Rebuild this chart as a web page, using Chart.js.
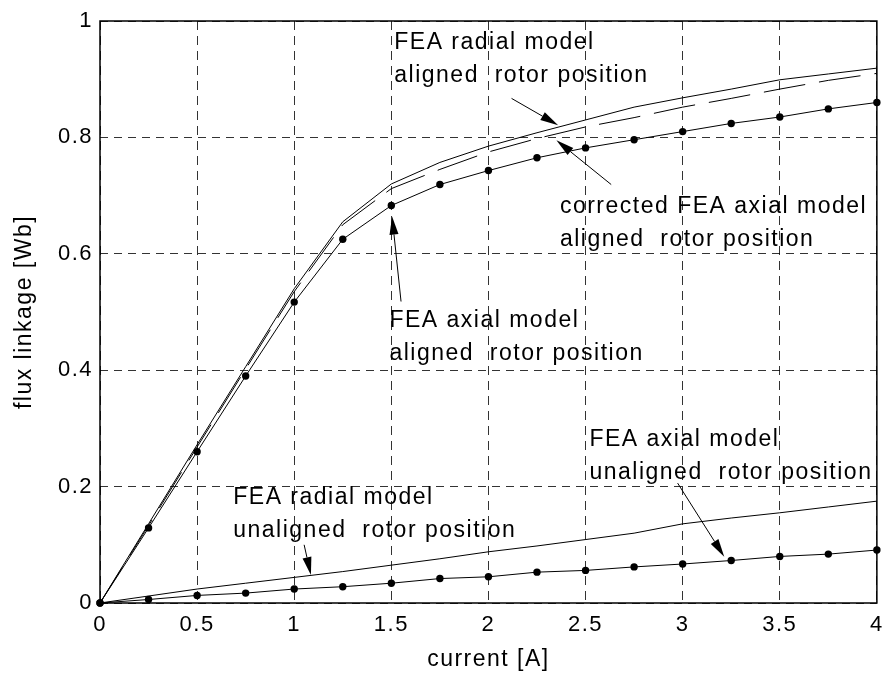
<!DOCTYPE html>
<html>
<head>
<meta charset="utf-8">
<script src="https://cdn.jsdelivr.net/npm/chart.js@4.4.0/dist/chart.umd.min.js"></script>
<style>
    html, body { margin: 0; padding: 0; background: #fff; }
    #wrap { width: 892px; height: 675px; }
</style>
</head>
<body>
<div id="wrap"><canvas id="fluxChart" width="892" height="675"></canvas></div>
<script>
// current [A]
const current = [0, 0.25, 0.5, 0.75, 1, 1.25, 1.5, 1.75, 2, 2.25, 2.5, 2.75, 3, 3.25, 3.5, 3.75, 4];

// flux linkage [Wb]
const radialAligned    = [0, 0.136, 0.272, 0.406, 0.54, 0.655, 0.72, 0.757, 0.785, 0.808, 0.83, 0.852, 0.868, 0.883, 0.899, 0.909, 0.919];
const correctedAligned = [0, 0.133, 0.268, 0.402, 0.535, 0.65, 0.712, 0.745, 0.775, 0.798, 0.818, 0.834, 0.852, 0.867, 0.883, 0.898, 0.91];
const axialAligned     = [0, 0.129, 0.26, 0.39, 0.517, 0.625, 0.683, 0.719, 0.743, 0.765, 0.782, 0.796, 0.81, 0.824, 0.835, 0.849, 0.86];
const radialUnaligned  = [0, 0.012, 0.024, 0.034, 0.044, 0.054, 0.065, 0.076, 0.088, 0.098, 0.109, 0.12, 0.136, 0.146, 0.155, 0.165, 0.175];
const axialUnaligned   = [0, 0.006, 0.013, 0.017, 0.024, 0.028, 0.034, 0.042, 0.045, 0.053, 0.056, 0.062, 0.067, 0.073, 0.08, 0.084, 0.091];

const xTicks = [0, 0.5, 1, 1.5, 2, 2.5, 3, 3.5, 4];
const yTicks = [0, 0.2, 0.4, 0.6, 0.8, 1];

// text notes (first line baseline, in data units) and their arrows
const noteText = [
    ['FEA radial model', 'aligned  rotor position'],
    ['corrected FEA axial model', 'aligned  rotor position'],
    ['FEA axial model', 'aligned  rotor position'],
    ['FEA radial model', 'unaligned  rotor position'],
    ['FEA axial model', 'unaligned  rotor position']
];
const noteX = [1.515, 2.368, 1.49, 0.686, 2.52];
const noteY = [0.952, 0.67, 0.474, 0.17, 0.27];

const arrowFromX = [2.119, 2.632, 1.55, 1.051, 2.974];
const arrowFromY = [0.867, 0.719, 0.518, 0.1, 0.206];
const arrowToX   = [2.359, 2.35, 1.504, 1.086, 3.214];
const arrowToY   = [0.821, 0.795, 0.664, 0.048, 0.0795];

const FONT = '"Liberation Sans", Arial, sans-serif';
const SPACING = '1.5px';

function toPoints(ys) {
    return current.map((x, i) => ({ x: x, y: ys[i] }));
}

function drawArrow(ctx, x1, y1, x2, y2) {
    const ang = Math.atan2(y2 - y1, x2 - x1);
    const len = 18, half = 4.5;
    const bx = x2 - len * Math.cos(ang);
    const by = y2 - len * Math.sin(ang);
    ctx.beginPath();
    ctx.moveTo(x1, y1);
    ctx.lineTo(bx, by);
    ctx.stroke();
    ctx.beginPath();
    ctx.moveTo(x2, y2);
    ctx.lineTo(bx + half * Math.sin(ang), by - half * Math.cos(ang));
    ctx.lineTo(bx - half * Math.sin(ang), by + half * Math.cos(ang));
    ctx.closePath();
    ctx.fill();
}

//wide text, box, notes and arrows
const notesPlugin = {
    id: 'notes',
    beforeDraw(chart) {
        chart.ctx.letterSpacing = SPACING;
    },
    afterDatasetsDraw(chart) {
        const ctx = chart.ctx;
        const a = chart.chartArea;
        const sx = chart.scales.x, sy = chart.scales.y;
        ctx.save();
        ctx.strokeStyle = '#000';
        ctx.lineWidth = 1.5;
        ctx.strokeRect(a.left, a.top, a.right - a.left, a.bottom - a.top);

        ctx.fillStyle = '#000';
        ctx.font = '23px ' + FONT;
        ctx.letterSpacing = SPACING;
        ctx.textBaseline = 'alphabetic';
        ctx.textAlign = 'left';
        noteText.forEach((lines, i) => {
            const px = sx.getPixelForValue(noteX[i]);
            const py = sy.getPixelForValue(noteY[i]);
            lines.forEach((t, j) => ctx.fillText(t, px, py + j * 33));
        });

        ctx.lineWidth = 1;
        for (let i = 0; i < arrowFromX.length; i++) {
            drawArrow(ctx,
                sx.getPixelForValue(arrowFromX[i]), sy.getPixelForValue(arrowFromY[i]),
                sx.getPixelForValue(arrowToX[i]), sy.getPixelForValue(arrowToY[i]));
        }
        ctx.restore();
    }
};

Chart.defaults.font.family = FONT;
Chart.defaults.color = '#000';

const lineStyle = {
    borderColor: '#000',
    borderWidth: 1,
    pointRadius: 0,
    tension: 0,
    fill: false,
    clip: 10
};

const cdata = {
    datasets: [
        Object.assign({ label: 'FEA radial model aligned', data: toPoints(radialAligned) }, lineStyle),
        Object.assign({ label: 'corrected FEA axial model aligned', data: toPoints(correctedAligned) }, lineStyle, { borderDash: [42, 14] }),
        Object.assign({ label: 'FEA axial model aligned', data: toPoints(axialAligned) }, lineStyle,
            { pointRadius: 3.7, pointBackgroundColor: '#000', pointBorderWidth: 0 }),
        Object.assign({ label: 'FEA radial model unaligned', data: toPoints(radialUnaligned) }, lineStyle),
        Object.assign({ label: 'FEA axial model unaligned', data: toPoints(axialUnaligned) }, lineStyle,
            { pointRadius: 3.7, pointBackgroundColor: '#000', pointBorderWidth: 0 })
    ]
};

const config = {
    type: 'line',
    data: cdata,
    options: {
        responsive: false,
        animation: false,
        layout: { padding: { top: 21, right: 10, left: 0, bottom: 0 } },
        plugins: {
            legend: { display: false },
            tooltip: { enabled: false }
        },
        scales: {
            x: {
                type: 'linear',
                min: 0,
                max: 4,
                afterBuildTicks: (scale) => { scale.ticks = xTicks.map(v => ({ value: v })); },
                afterFit: (scale) => { scale.height = 72; },
                grid: { color: 'rgba(0,0,0,0.8)', lineWidth: 1, drawTicks: false },
                border: { display: false, dash: [9, 6] },
                ticks: { font: { size: 22 }, padding: 9, maxRotation: 0, callback: (v) => String(v) },
                title: { display: true, text: 'current [A]', font: { size: 23 }, padding: { top: 0, bottom: 2 } }
            },
            y: {
                type: 'linear',
                min: 0,
                max: 1,
                afterBuildTicks: (scale) => { scale.ticks = yTicks.map(v => ({ value: v })); },
                afterFit: (scale) => { scale.width = 100; },
                grid: { color: 'rgba(0,0,0,0.8)', lineWidth: 1, drawTicks: false },
                border: { display: false, dash: [8, 6] },
                ticks: { font: { size: 22 }, padding: 7, callback: (v) => String(v) },
                title: { display: true, text: 'flux linkage [Wb]', font: { size: 23 }, padding: { top: 11, bottom: 0 } }
            }
        }
    },
    plugins: [notesPlugin]
};

let ctx = document.getElementById('fluxChart').getContext('2d');
var fluxChart = new Chart(ctx, config);
</script>
</body>
</html>
